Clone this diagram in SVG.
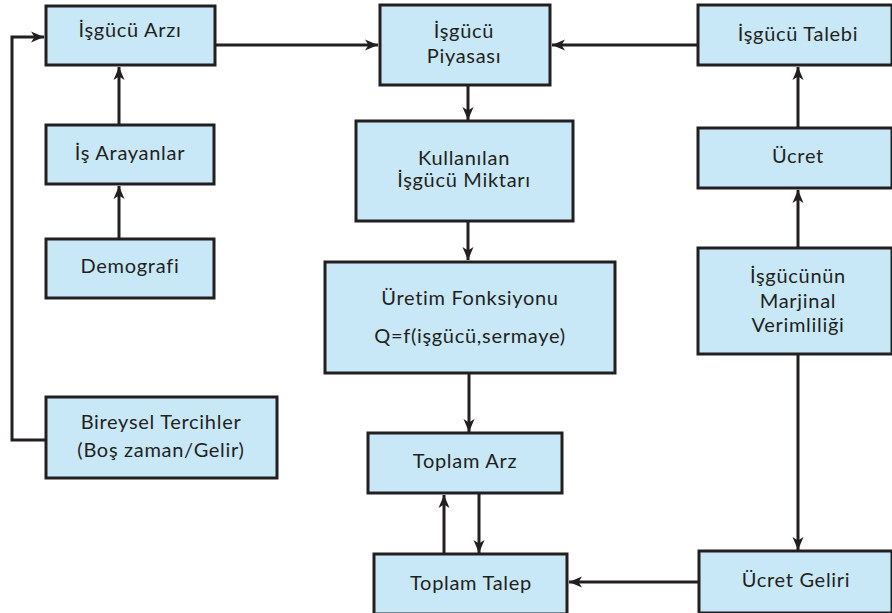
<svg xmlns="http://www.w3.org/2000/svg" width="892" height="613" viewBox="0 0 892 613">
<defs>
<style>
.box{fill:#c8e8f8;stroke:#231f20;stroke-width:3}
.t{font-family:Lato,"Open Sans","DejaVu Sans",sans-serif;font-size:20px;letter-spacing:0.7px;fill:#231f20;text-anchor:middle}
.c{fill:none;stroke:#231f20;stroke-width:3}
</style>
<marker id="ah" markerUnits="userSpaceOnUse" markerWidth="14" markerHeight="12" refX="13" refY="6" orient="auto">
<path d="M0,0.5 L13,6 L0,11.5 L3.5,6 z" fill="#231f20"/>
</marker>
</defs>
<rect width="892" height="613" fill="#ffffff"/>
<g id="connectors">
<path class="c" d="M215,45 H378" marker-end="url(#ah)"/>
<path class="c" d="M698,45 H552" marker-end="url(#ah)"/>
<path class="c" d="M119,125 V67" marker-end="url(#ah)"/>
<path class="c" d="M119,239 V186" marker-end="url(#ah)"/>
<path class="c" d="M46,440 H12 V37 H44" marker-end="url(#ah)"/>
<path class="c" d="M468,85 V120" marker-end="url(#ah)"/>
<path class="c" d="M468,221 V260" marker-end="url(#ah)"/>
<path class="c" d="M469,373 V432" marker-end="url(#ah)"/>
<path class="c" d="M444,554 V495" marker-end="url(#ah)"/>
<path class="c" d="M479,493 V553" marker-end="url(#ah)"/>
<path class="c" d="M798,128 V67" marker-end="url(#ah)"/>
<path class="c" d="M798,248 V190" marker-end="url(#ah)"/>
<path class="c" d="M798,354 V550" marker-end="url(#ah)"/>
<path class="c" d="M699,582 H569" marker-end="url(#ah)"/>
</g>
<g id="isgucu-arzi"><rect class="box" x="46" y="6" width="169" height="59"/><text class="t" x="130" y="37">İşgücü Arzı</text></g>
<g id="is-arayanlar"><rect class="box" x="46" y="125" width="168" height="59"/><text class="t" x="130" y="160">İş Arayanlar</text></g>
<g id="demografi"><rect class="box" x="46" y="239" width="168" height="59"/><text class="t" x="130" y="273">Demografi</text></g>
<g id="bireysel"><rect class="box" x="46" y="397" width="231" height="81"/><text class="t" x="161" y="429">Bireysel Tercihler</text><text class="t" x="161" y="457">(Boş zaman/Gelir)</text></g>
<g id="piyasa"><rect class="box" x="380" y="5" width="170" height="80"/><text class="t" x="464" y="38">İşgücü</text><text class="t" x="464" y="63">Piyasası</text></g>
<g id="kullanilan"><rect class="box" x="356" y="121" width="217" height="100"/><text class="t" x="464" y="165">Kullanılan</text><text class="t" x="464" y="187">İşgücü Miktarı</text></g>
<g id="uretim"><rect class="box" x="325" y="262" width="290" height="111"/><text class="t" x="470" y="305">Üretim Fonksiyonu</text><text class="t" x="470" y="343">Q=f(işgücü,sermaye)</text></g>
<g id="toplam-arz"><rect class="box" x="368" y="433" width="194" height="60"/><text class="t" x="465" y="468">Toplam Arz</text></g>
<g id="toplam-talep"><rect class="box" x="374" y="554" width="193" height="60"/><text class="t" x="471" y="590">Toplam Talep</text></g>
<g id="isgucu-talebi"><rect class="box" x="698" y="5" width="194" height="60"/><text class="t" x="798" y="41">İşgücü Talebi</text></g>
<g id="ucret"><rect class="box" x="698" y="128" width="194" height="60"/><text class="t" x="798" y="163">Ücret</text></g>
<g id="marjinal"><rect class="box" x="698" y="248" width="194" height="106"/><text class="t" x="798" y="283">İşgücünün</text><text class="t" x="798" y="308">Marjinal</text><text class="t" x="798" y="332">Verimliliği</text></g>
<g id="ucret-geliri"><rect class="box" x="699" y="551" width="193" height="62"/><text class="t" x="796" y="587">Ücret Geliri</text></g>
</svg>
